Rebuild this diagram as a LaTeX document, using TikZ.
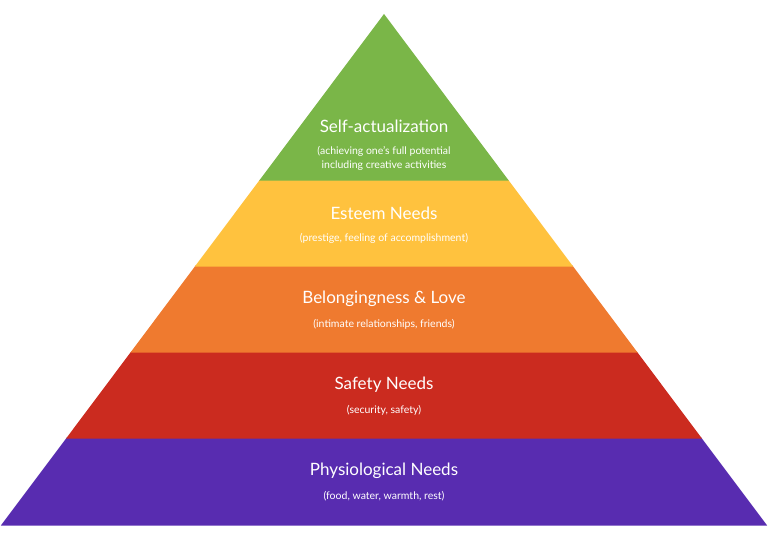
\documentclass[tikz,border=0pt]{standalone}
\usepackage{fontspec}
\setmainfont{Lato}
\usetikzlibrary{calc}
\definecolor{physio}{HTML}{582CB0}
\definecolor{safety}{HTML}{CB2B1F}
\definecolor{belong}{HTML}{EF7A2F}
\definecolor{esteem}{HTML}{FFC23E}
\definecolor{selfact}{HTML}{7AB648}
\tikzset{
    band/.style = {draw=white, line width=1.2pt, line join=miter},
    title/.style = {text=white, font=\fontsize{17}{20}\selectfont},
    sub/.style = {text=white, font=\fontsize{10.5}{14}\selectfont, align=center},
}
\begin{document}
\begin{tikzpicture}[x=1pt,y=1pt]
\useasboundingbox (0,0) rectangle (768,548);
\coordinate (apex) at (384,533);

% bands, bottom to top
\fill[band,physio]  (2,23) -- (766,23) -- (700.8,110) -- (67.2,110) -- cycle;
\fill[band,safety]  (67.2,110) -- (700.8,110) -- (636.4,196) -- (131.6,196) -- cycle;
\fill[band,belong]  (131.6,196) -- (636.4,196) -- (572,282) -- (196,282) -- cycle;
\fill[band,esteem]  (196,282) -- (572,282) -- (507.6,368) -- (260.4,368) -- cycle;
\fill[band,selfact] (260.4,368) -- (507.6,368) -- (apex) -- cycle;

% labels
\node[title] (t5) at (384,422) {Self-actualization};
\node[sub]   (s5) at (384,390) {(achieving one’s full potential\\including creative activities};
\node[title] (t4) at (384,335) {Esteem Needs};
\node[sub]   (s4) at (384,310) {(prestige, feeling of accomplishment)};
\node[title] (t3) at (384,249) {Belongingness \& Love};
\node[sub]   (s3) at (384,224) {(intimate relationships, friends)};
\node[title] (t2) at (384,163) {Safety Needs};
\node[sub]   (s2) at (384,138) {(security, safety)};
\node[title] (t1) at (384,77)  {Physiological Needs};
\node[sub]   (s1) at (384,52)  {(food, water, warmth, rest)};
\end{tikzpicture}
\end{document}
